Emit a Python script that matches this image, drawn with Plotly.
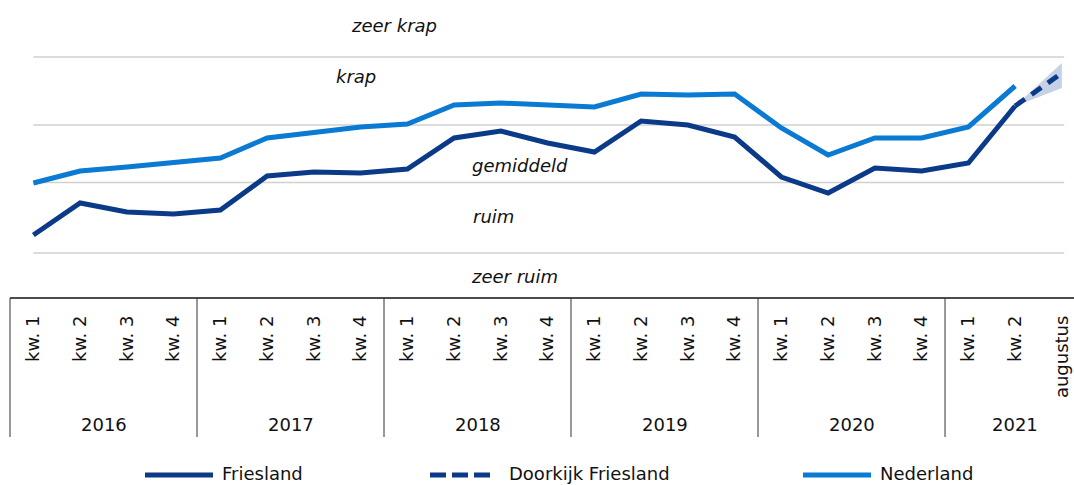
import plotly.graph_objects as go

# ---------------- data ----------------
years = ["2016", "2017", "2018", "2019", "2020", "2021"]
quarters_per_year = [4, 4, 4, 4, 4, 3]
tick_labels = (["kw. 1", "kw. 2", "kw. 3", "kw. 4"] * 5) + ["kw. 1", "kw. 2", "augustus"]

friesland = [63, 95, 86, 84, 88, 122, 126, 125, 129, 160, 167, 155,
             146, 177, 173, 161, 121, 105, 130, 127, 135, 192]
nederland = [115, 127, 131, 135, 140, 160, 166, 171, 174, 193, 195, 193,
             191, 204, 203, 204, 170, 143, 160, 160, 171, 212]
doorkijk_idx = [21, 22]
doorkijk = [192, 225]
doorkijk_low = [192, 210]
doorkijk_high = [192, 235]

zone_bounds = [45, 115.5, 173, 241]
zone_labels = ["zeer ruim", "ruim", "gemiddeld", "krap", "zeer krap"]
zone_label_pos = [(10.30, 22), (9.85, 82), (10.41, 133), (6.90, 222), (7.71, 273)]

series_names = ["Friesland", "Doorkijk Friesland", "Nederland"]

# ---------------- style ----------------
C_FRI = "#0B3A88"
C_NED = "#0A7AD2"
C_BAND = "rgba(150,172,210,0.55)"
FONT = "DejaVu Sans, Verdana, sans-serif"

W, H = 1074, 485
ML, MT, MB, MR = 0, 0, 187, 0
PW, PH = W - ML - MR, H - MT - MB


def px_x(px):
    return (px - ML) / PW


def px_y(py):
    return (PH + MT - py) / PH


x_all = list(range(len(tick_labels)))
fig = go.Figure()

fig.add_trace(go.Scatter(x=doorkijk_idx, y=doorkijk_low, mode="lines",
                         line=dict(width=0), hoverinfo="skip", showlegend=False))
fig.add_trace(go.Scatter(x=doorkijk_idx, y=doorkijk_high, mode="lines",
                         line=dict(width=0), fill="tonexty", fillcolor=C_BAND,
                         hoverinfo="skip", showlegend=False))
fig.add_trace(go.Scatter(x=x_all[:len(nederland)], y=nederland, mode="lines",
                         name=series_names[2], line=dict(color=C_NED, width=5),
                         showlegend=False))
fig.add_trace(go.Scatter(x=x_all[:len(friesland)], y=friesland, mode="lines",
                         name=series_names[0], line=dict(color=C_FRI, width=5),
                         showlegend=False))
fig.add_trace(go.Scatter(x=doorkijk_idx, y=doorkijk, mode="lines",
                         name=series_names[1],
                         line=dict(color=C_FRI, width=5, dash="12px,8px"),
                         showlegend=False))

shapes = []
for b in zone_bounds:
    shapes.append(dict(type="line", xref="x", yref="y", x0=0, x1=22.05, y0=b, y1=b,
                       line=dict(color="#d0d0d0", width=1.5), layer="below"))
shapes.append(dict(type="line", xref="paper", yref="paper", x0=px_x(10), x1=1,
                   y0=0, y1=0, line=dict(color="#111", width=1.3)))
bounds = [-0.5]
for n in quarters_per_year[:-1]:
    bounds.append(bounds[-1] + n)
for b in bounds:
    shapes.append(dict(type="line", xref="x", yref="paper", x0=b, x1=b,
                       y0=0, y1=px_y(437), line=dict(color="#333", width=1)))

annotations = []
for lab, (xx, yy) in zip(zone_labels, zone_label_pos):
    annotations.append(dict(x=xx, y=yy, xref="x", yref="y", text=lab,
                            showarrow=False, yanchor="middle",
                            font=dict(family=FONT, size=18, color="#111", style="italic")))
start = -0.5
for yr, n in zip(years, quarters_per_year):
    center = start + n / 2 if yr != "2021" else 21
    annotations.append(dict(x=center, y=px_y(424), xref="x", yref="paper", text=yr,
                            showarrow=False, yanchor="middle",
                            font=dict(family=FONT, size=18, color="#111")))
    start += n

leg_items = [
    (series_names[0], C_FRI, "solid", 143, 215, 220),
    (series_names[1], C_FRI, "16px,6px", 428, 495, 507),
    (series_names[2], C_NED, "solid", 801, 873, 878),
]
for name, col, dash, x0, x1, tx in leg_items:
    shapes.append(dict(type="line", xref="paper", yref="paper",
                       x0=px_x(x0 + 2), x1=px_x(x1 - 2), y0=px_y(475), y1=px_y(475),
                       line=dict(color=col, width=5, dash=dash)))
    annotations.append(dict(x=px_x(tx), y=px_y(473), xref="paper", yref="paper",
                            text=name, showarrow=False, xanchor="left", yanchor="middle",
                            font=dict(family=FONT, size=18, color="#111")))

fig.update_layout(
    width=W, height=H,
    margin=dict(l=ML, r=MR, t=MT, b=MB, pad=0),
    plot_bgcolor="white", paper_bgcolor="white",
    showlegend=False,
    shapes=shapes, annotations=annotations,
    xaxis=dict(range=[-0.714, 22.259], tickmode="array", tickvals=x_all,
               ticktext=tick_labels, tickangle=-90, showgrid=False, zeroline=False,
               showline=False, ticks="", ticklabelstandoff=13,
               tickfont=dict(family=FONT, size=18, color="#111"), fixedrange=True),
    yaxis=dict(range=[0, PH], showticklabels=False, showgrid=False, zeroline=False,
               showline=False, ticks="", fixedrange=True),
)

fig.write_html(
    "out.html",
    config={"displayModeBar": False},
    post_script="document.body.style.margin='0';document.body.style.overflow='hidden';",
)
